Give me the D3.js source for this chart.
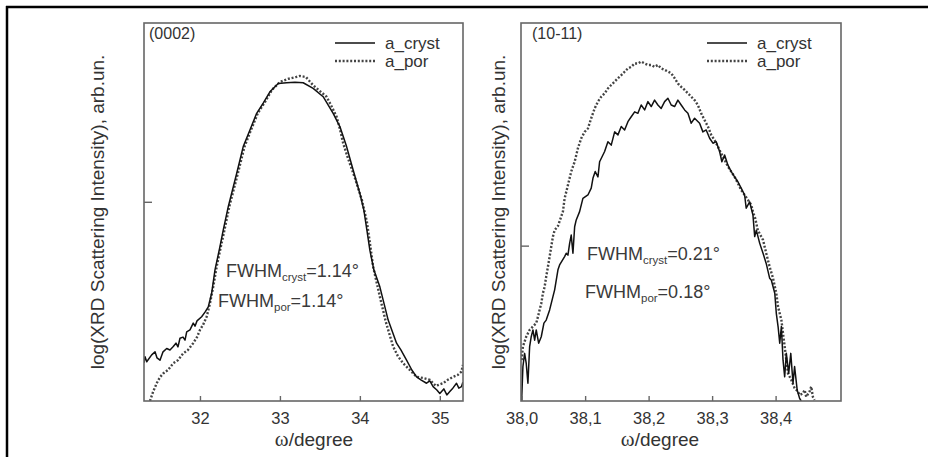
<!DOCTYPE html>
<html>
<head>
<meta charset="utf-8">
<script src="https://cdn.jsdelivr.net/npm/d3@7"></script>
<style>
  html, body { margin: 0; padding: 0; background: #fff; }
  svg { display: block; font-family: "Liberation Sans", Arial, sans-serif; }
</style>
</head>
<body>
<svg id="chart" width="928" height="457"></svg>
<script>
// ---------------- DATA ----------------
const seriesNames = ["a_cryst", "a_por"];
const panelTitles = ["(0002)", "(10-11)"];
const leftTicks = [32, 33, 34, 35];
const rightTicks = [38.0, 38.1, 38.2, 38.3, 38.4];
const leftYTick = [52.7];
const rightYTick = [41.1];
const fwhmLeft = [["cryst", "1.14"], ["por", "1.14"]];
const fwhmRight = [["cryst", "0.21"], ["por", "0.18"]];

// [omega (degree), log intensity (arb. units)]
const leftCryst = [
[31.300,10.1],[31.313,11.7],[31.334,10.4],[31.396,12.2],[31.438,13.0],[31.463,11.4],[31.500,10.8],[31.538,13.0],[31.584,13.9],[31.625,13.5],[31.666,14.4],[31.700,15.3],[31.725,14.3],[31.750,16.6],[31.788,16.9],[31.813,16.1],[31.834,18.3],[31.875,18.8],[31.916,20.6],[31.938,19.8],[31.963,21.2],[32.021,22.3],[32.063,23.5],[32.104,24.9],[32.146,28.5],[32.188,34.7],[32.250,40.8],[32.291,45.2],[32.354,51.4],[32.459,60.2],[32.541,67.3],[32.625,71.7],[32.709,76.1],[32.791,78.8],[32.875,81.8],[32.979,84.0],[33.084,84.2],[33.188,84.3],[33.291,84.2],[33.416,82.7],[33.541,80.5],[33.666,76.1],[33.750,72.6],[33.834,67.3],[33.916,61.1],[34.000,54.9],[34.050,50.5],[34.088,45.2],[34.125,39.9],[34.175,34.7],[34.250,30.2],[34.354,21.4],[34.459,15.3],[34.513,13.5],[34.584,10.8],[34.650,8.2],[34.709,6.4],[34.763,5.6],[34.834,4.7],[34.875,5.3],[34.916,3.8],[34.963,2.9],[35.000,2.0],[35.050,3.2],[35.088,1.6],[35.125,2.5],[35.163,3.4],[35.209,4.7],[35.238,3.4],[35.271,3.8],[35.288,5.0]
];
const leftPor = [
[31.375,0],[31.413,2.4],[31.459,4.7],[31.500,6.3],[31.541,7.3],[31.600,8.2],[31.666,10.0],[31.725,10.8],[31.791,12.6],[31.850,13.5],[31.916,15.3],[31.963,16.9],[32.000,18.8],[32.038,20.1],[32.084,22.3],[32.125,25.8],[32.166,30.2],[32.213,36.0],[32.263,41.0],[32.306,45.2],[32.369,51.6],[32.475,60.3],[32.556,67.2],[32.638,71.7],[32.725,76.2],[32.813,79.1],[32.900,82.3],[33.000,84.4],[33.100,85.2],[33.200,85.7],[33.250,86.0],[33.325,85.7],[33.413,83.6],[33.500,82.0],[33.584,80.5],[33.650,77.8],[33.709,75.2],[33.750,72.0],[33.791,68.2],[33.850,64.3],[33.938,59.0],[34.025,53.2],[34.088,47.4],[34.138,39.9],[34.166,35.5],[34.250,27.6],[34.325,20.9],[34.416,14.4],[34.475,11.9],[34.541,10.0],[34.625,8.2],[34.709,6.4],[34.788,6.1],[34.875,5.6],[34.950,4.0],[35.041,4.7],[35.100,5.6],[35.166,6.4],[35.225,6.9],[35.271,7.8],[35.288,9.5]
];
const rightCryst = [
[38.0000,0],[38.0020,9.1],[38.0047,12.6],[38.0072,10.0],[38.0099,4.7],[38.0126,14.4],[38.0151,17.0],[38.0178,18.8],[38.0205,16.1],[38.0230,18.8],[38.0268,15.3],[38.0309,17.0],[38.0351,20.6],[38.0387,21.4],[38.0441,24.1],[38.0493,27.6],[38.0520,29.4],[38.0572,34.7],[38.0598,36.0],[38.0677,38.2],[38.0702,39.1],[38.0729,38.6],[38.0756,41.7],[38.0781,43.9],[38.0808,39.1],[38.0835,46.1],[38.0860,47.9],[38.0913,50.1],[38.0965,53.6],[38.1044,54.5],[38.1096,56.3],[38.1123,58.9],[38.1159,60.7],[38.1202,59.3],[38.1228,63.3],[38.1307,66.0],[38.1359,68.6],[38.1411,67.7],[38.1465,71.2],[38.1517,70.4],[38.1569,72.6],[38.1622,71.7],[38.1674,73.9],[38.1726,75.2],[38.1780,76.5],[38.1831,76.1],[38.1883,78.3],[38.1937,77.0],[38.1989,79.2],[38.2041,77.9],[38.2094,79.6],[38.2146,78.3],[38.2198,77.4],[38.2252,79.2],[38.2304,80.1],[38.2356,78.3],[38.2409,77.9],[38.2461,79.6],[38.2513,78.3],[38.2567,77.0],[38.2619,76.1],[38.2671,73.5],[38.2724,74.8],[38.2803,73.5],[38.2855,71.2],[38.2907,71.7],[38.2961,69.5],[38.3013,68.2],[38.3065,68.6],[38.3118,66.0],[38.3154,63.3],[38.3197,65.1],[38.3249,62.4],[38.3301,60.7],[38.3354,59.3],[38.3406,58.0],[38.3458,56.3],[38.3512,54.5],[38.3537,51.0],[38.3591,52.7],[38.3643,49.2],[38.3671,43.5],[38.3696,45.2],[38.3750,41.7],[38.3802,39.1],[38.3852,36.4],[38.3906,32.5],[38.3932,32.0],[38.3987,28.5],[38.4011,23.2],[38.4039,19.7],[38.4065,15.3],[38.4091,19.7],[38.4117,10.8],[38.4143,6.4],[38.4169,12.6],[38.4206,7.3],[38.4239,12.6],[38.4274,4.7],[38.4299,9.1],[38.4340,2.9],[38.4378,0.7],[38.4403,0]
];
const rightPor = [
[38.0000,10.8],[38.0020,14.4],[38.0072,17.0],[38.0126,18.8],[38.0178,19.7],[38.0230,20.6],[38.0257,22.3],[38.0283,24.1],[38.0309,25.8],[38.0335,28.5],[38.0362,30.2],[38.0387,32.9],[38.0414,35.5],[38.0441,38.2],[38.0466,40.8],[38.0493,43.5],[38.0520,45.2],[38.0572,46.3],[38.0650,50.1],[38.0677,53.6],[38.0729,57.1],[38.0781,60.7],[38.0835,63.3],[38.0887,66.9],[38.0939,69.5],[38.0992,71.2],[38.1044,72.1],[38.1096,74.8],[38.1150,77.4],[38.1202,79.2],[38.1254,80.5],[38.1307,81.4],[38.1359,82.7],[38.1411,83.6],[38.1465,84.5],[38.1517,85.4],[38.1569,86.2],[38.1622,87.1],[38.1674,88.0],[38.1726,88.4],[38.1780,89.3],[38.1831,89.3],[38.1883,89.8],[38.1937,89.3],[38.1989,88.9],[38.2041,88.9],[38.2094,88.4],[38.2146,88.9],[38.2198,88.0],[38.2252,87.6],[38.2356,86.7],[38.2409,85.4],[38.2461,84.0],[38.2513,83.1],[38.2567,82.3],[38.2619,81.4],[38.2671,80.5],[38.2724,79.6],[38.2776,78.3],[38.2828,76.1],[38.2882,74.3],[38.2934,72.6],[38.2986,70.4],[38.3039,69.0],[38.3091,67.3],[38.3143,65.5],[38.3197,63.8],[38.3249,62.0],[38.3301,60.7],[38.3354,59.3],[38.3406,57.6],[38.3458,55.8],[38.3512,54.5],[38.3564,53.2],[38.3616,51.9],[38.3643,50.1],[38.3679,48.3],[38.3720,45.2],[38.3802,42.6],[38.3852,39.1],[38.3906,35.5],[38.3959,32.5],[38.4011,28.5],[38.4039,24.9],[38.4091,21.4],[38.4117,17.9],[38.4143,14.4],[38.4169,10.8],[38.4195,7.3],[38.4247,5.6],[38.4299,3.4],[38.4351,2.5],[38.4378,1.6],[38.4430,2.0],[38.4457,2.9],[38.4482,1.1],[38.4535,2.5],[38.4561,3.8],[38.4587,1.1],[38.4614,0.3]
];

// ---------------- DRAW ----------------
const svg = d3.select("#chart");
const FONT = "'Liberation Sans', Arial, sans-serif";
const TXT = "#333";

// outer frame (top + left)
svg.append("line").attr("x1", 6).attr("x2", 928).attr("y1", 7).attr("y2", 7)
  .attr("stroke", "#000").attr("stroke-width", 2.5);
svg.append("line").attr("x1", 7).attr("x2", 7).attr("y1", 6).attr("y2", 457)
  .attr("stroke", "#000").attr("stroke-width", 2.5);

const plotTop = 23, plotBottom = 401;
const y = d3.scaleLinear().domain([0, 100]).range([plotBottom, plotTop]);

const panels = [
  { x0: 144, x1: 463, domain: [31.3, 35.29], ticks: leftTicks, fmt: d3.format("d"),
    cryst: leftCryst, por: leftPor, yTick: leftYTick, title: panelTitles[0], titleX: 149,
    ylabX: 104, xlabX: 314, legX: 335, fwhm: fwhmLeft,
    fwhmPos: [[226, 277], [218, 307]] },
  { x0: 521, x1: 841, domain: [37.999, 38.503], ticks: rightTicks,
    fmt: d => d3.format(".1f")(d).replace(".", ","),
    cryst: rightCryst, por: rightPor, yTick: rightYTick, title: panelTitles[1], titleX: 532,
    ylabX: 505, xlabX: 660, legX: 707, fwhm: fwhmRight,
    fwhmPos: [[587, 260], [585, 298]] }
];

panels.forEach(p => {
  const x = d3.scaleLinear().domain(p.domain).range([p.x0, p.x1]);
  const g = svg.append("g");

  const cid = "clip" + p.x0;
  svg.append("clipPath").attr("id", cid).append("rect")
    .attr("x", p.x0).attr("y", plotTop).attr("width", p.x1 - p.x0).attr("height", plotBottom - plotTop);

  const line = d3.line().x(d => x(d[0])).y(d => y(d[1]));

  g.append("path").datum(p.por).attr("d", line)
    .attr("clip-path", `url(#${cid})`)
    .attr("fill", "none").attr("stroke", "#444").attr("stroke-width", 2.4)
    .attr("stroke-dasharray", "2 1.8");
  g.append("path").datum(p.cryst).attr("d", line)
    .attr("clip-path", `url(#${cid})`)
    .attr("fill", "none").attr("stroke", "#111").attr("stroke-width", 1.5)
    .attr("stroke-linejoin", "round");

  const xa = g.append("g").attr("transform", `translate(0,${plotBottom})`)
    .call(d3.axisBottom(x).tickValues(p.ticks).tickFormat(p.fmt)
      .tickSizeInner(-5).tickSizeOuter(0));
  xa.select(".domain").remove();
  xa.selectAll(".tick line").attr("stroke", "#666").attr("stroke-width", 1.4);
  xa.selectAll(".tick text").attr("y", 23).attr("dy", null)
    .attr("fill", TXT).style("font-family", FONT).style("font-size", "16.5px");

  const ya = g.append("g").attr("transform", `translate(${p.x0},0)`)
    .call(d3.axisLeft(y).tickValues(p.yTick).tickFormat("")
      .tickSizeInner(-8).tickSizeOuter(0));
  ya.select(".domain").remove();
  ya.selectAll(".tick line").attr("stroke", "#666").attr("stroke-width", 1.4);

  g.append("rect").attr("x", p.x0).attr("y", plotTop)
    .attr("width", p.x1 - p.x0).attr("height", plotBottom - plotTop)
    .attr("fill", "none").attr("stroke", "#666").attr("stroke-width", 1.6);

  g.append("text").attr("x", p.titleX).attr("y", 39).text(p.title)
    .attr("fill", TXT).style("font-family", FONT).style("font-size", "16px");

  g.append("line").attr("x1", p.legX).attr("x2", p.legX + 40).attr("y1", 43).attr("y2", 43)
    .attr("stroke", "#111").attr("stroke-width", 1.5);
  g.append("line").attr("x1", p.legX).attr("x2", p.legX + 40).attr("y1", 61).attr("y2", 61)
    .attr("stroke", "#444").attr("stroke-width", 2.4).attr("stroke-dasharray", "2 1.8");
  g.append("text").attr("x", p.legX + 50).attr("y", 49).text(seriesNames[0])
    .attr("fill", TXT).style("font-family", FONT).style("font-size", "17px");
  g.append("text").attr("x", p.legX + 50).attr("y", 67).text(seriesNames[1])
    .attr("fill", TXT).style("font-family", FONT).style("font-size", "17px");

  p.fwhm.forEach((f, i) => {
    const t = g.append("text").attr("x", p.fwhmPos[i][0]).attr("y", p.fwhmPos[i][1])
      .attr("fill", "#3a3a3a").style("font-family", FONT).style("font-size", "18px");
    t.append("tspan").text("FWHM");
    t.append("tspan").text(f[0]).attr("dy", 4).style("font-size", "11.5px");
    t.append("tspan").text("=" + f[1] + "°").attr("dy", -4);
  });

  const xl = g.append("text").attr("x", p.xlabX).attr("y", 446).attr("text-anchor", "middle")
    .attr("fill", TXT).style("font-family", FONT).style("font-size", "19px");
  xl.append("tspan").text("ω").style("font-family", "'Liberation Serif', 'DejaVu Serif', serif").style("font-size", "21px");
  xl.append("tspan").text("/degree");
  g.append("text").attr("transform", `translate(${p.ylabX},${(plotTop + plotBottom) / 2}) rotate(-90)`)
    .attr("text-anchor", "middle").text("log(XRD Scattering Intensity), arb.un.")
    .attr("fill", TXT).style("font-family", FONT).style("font-size", "19px");
});
</script>
</body>
</html>
